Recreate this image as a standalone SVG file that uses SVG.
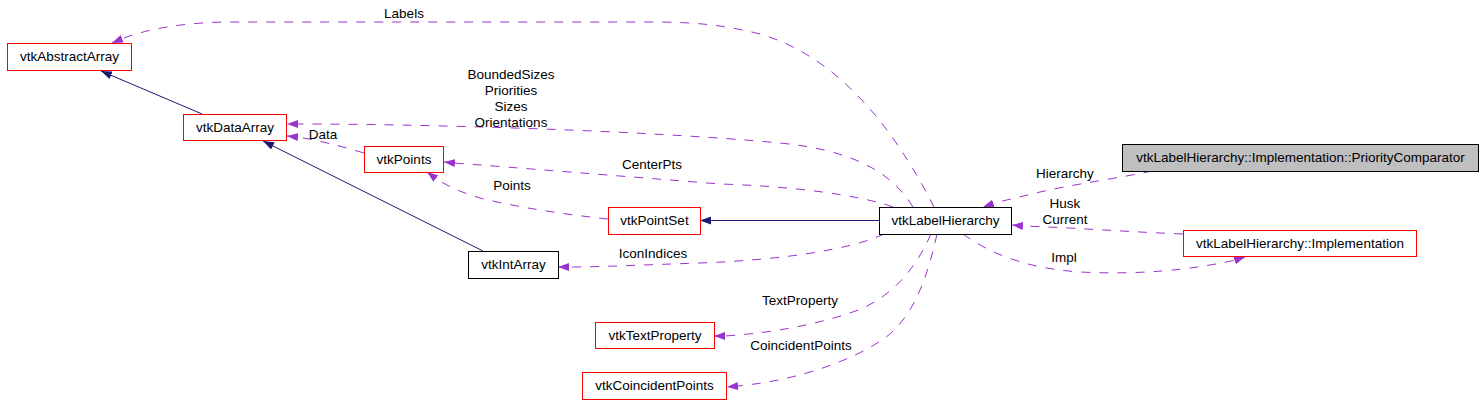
<svg xmlns="http://www.w3.org/2000/svg" width="1483" height="415" viewBox="0 0 1483 415">
<style>
.n rect{fill:#fff;stroke:#ff0000;stroke-width:1}
.n.b rect{stroke:#000}
.n.g rect{fill:#bfbfbf;stroke:#000}
text{font-family:"Liberation Sans",Arial,sans-serif;font-size:13.5px;fill:#000;text-anchor:middle}
.u{fill:none;stroke:#9a32cd;stroke-width:1;stroke-dasharray:9,9}
.i{fill:none;stroke:#191970;stroke-width:1}
</style>
<defs>
<marker id="ap" viewBox="0 0 11 8" refX="11" refY="4" markerWidth="11" markerHeight="8" markerUnits="userSpaceOnUse" orient="auto"><path d="M0,0 L11,4 L0,8 z" fill="#9a32cd"/></marker>
<marker id="an" viewBox="0 0 11 8" refX="11" refY="4" markerWidth="11" markerHeight="8" markerUnits="userSpaceOnUse" orient="auto"><path d="M0,0 L11,4 L0,8 z" fill="#191970"/></marker>
</defs>
<rect width="1483" height="415" fill="#fff"/>
<g id="edges">
<path class="i" d="M202,114 L101,71" marker-end="url(#an)"/>
<path class="i" d="M483,251 L263,141" marker-end="url(#an)"/>
<path class="i" d="M879,220.5 L700,220.5" marker-end="url(#an)"/>
<path class="u" d="M934,207 C905,150 850,60 760,34 C720,24 690,22 650,22 L230,22 C190,22 150,28 124,38 L112,43" marker-end="url(#ap)"/>
<text x="404" y="18">Labels</text>
<path class="u" d="M913,207 C890,170 850,150 780,143 C640,130 420,124 298,124 L287,124" marker-end="url(#ap)"/>
<text x="511" y="79">BoundedSizes</text>
<text x="511" y="95">Priorities</text>
<text x="511" y="111">Sizes</text>
<text x="511" y="127">Orientations</text>
<path class="u" d="M364,153 C340,146 318,140 297,137 L287,136" marker-end="url(#ap)"/>
<text x="323" y="139">Data</text>
<path class="u" d="M893,207 C860,195 790,186 720,184 C620,176 520,168 454,163 L444,162" marker-end="url(#ap)"/>
<text x="652" y="169">CenterPts</text>
<path class="u" d="M608,219 C570,215 520,208 480,198 C460,192 447,186 435,178 L427,172" marker-end="url(#ap)"/>
<text x="512" y="190">Points</text>
<path class="u" d="M884,234 C850,250 780,260 700,263 C640,265 600,267 569,267 L558,267" marker-end="url(#ap)"/>
<text x="653" y="258">IconIndices</text>
<path class="u" d="M931,234 C915,270 890,300 850,313 C810,326 770,333 725,336 L714,336" marker-end="url(#ap)"/>
<text x="800" y="305">TextProperty</text>
<path class="u" d="M937,234 C927,280 912,320 882,340 C852,360 800,380 738,386 L727,387" marker-end="url(#ap)"/>
<text x="801" y="350">CoincidentPoints</text>
<path class="u" d="M1152,171 C1120,178 1080,183 1040,192 C1020,197 1005,200 992,204 L983,207" marker-end="url(#ap)"/>
<text x="1065" y="178">Hierarchy</text>
<path class="u" d="M1183,234 C1130,232 1080,228 1023,226 L1012,225" marker-end="url(#ap)"/>
<text x="1065" y="208">Husk</text>
<text x="1065" y="224">Current</text>
<path class="u" d="M963,234 C985,250 1020,268 1080,272 C1140,275 1190,270 1236,260 L1245,257" marker-end="url(#ap)"/>
<text x="1064" y="262">Impl</text>
</g>
<g id="vtkAbstractArray" class="n"><rect x="7.5" y="43.5" width="124" height="27"/><text x="69.5" y="61">vtkAbstractArray</text></g>
<g id="vtkDataArray" class="n"><rect x="183.5" y="114.5" width="103" height="26"/><text x="235" y="132">vtkDataArray</text></g>
<g id="vtkPoints" class="n"><rect x="364.5" y="146.5" width="79" height="26"/><text x="404" y="164">vtkPoints</text></g>
<g id="vtkPointSet" class="n"><rect x="608.5" y="207.5" width="92" height="27"/><text x="654.5" y="225">vtkPointSet</text></g>
<g id="vtkIntArray" class="n b"><rect x="468.5" y="251.5" width="90" height="27"/><text x="513.5" y="269">vtkIntArray</text></g>
<g id="vtkLabelHierarchy" class="n b"><rect x="879.5" y="207.5" width="132" height="27"/><text x="945.5" y="225">vtkLabelHierarchy</text></g>
<g id="PriorityComparator" class="n g"><rect x="1122.5" y="144.5" width="356" height="27"/><text x="1300.5" y="162">vtkLabelHierarchy::Implementation::PriorityComparator</text></g>
<g id="Implementation" class="n"><rect x="1183.5" y="230.5" width="233" height="26"/><text x="1300" y="248">vtkLabelHierarchy::Implementation</text></g>
<g id="vtkTextProperty" class="n"><rect x="595.5" y="322.5" width="119" height="26"/><text x="655" y="340">vtkTextProperty</text></g>
<g id="vtkCoincidentPoints" class="n"><rect x="582.5" y="372.5" width="144" height="27"/><text x="654.5" y="390">vtkCoincidentPoints</text></g>
</svg>
